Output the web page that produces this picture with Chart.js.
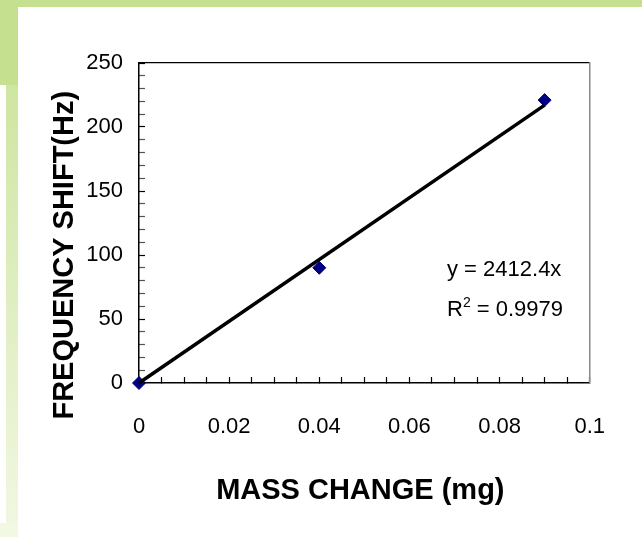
<!DOCTYPE html>
<html>
<head>
<meta charset="utf-8">
<title>Frequency shift vs mass change</title>
<script src="https://cdn.jsdelivr.net/npm/chart.js@4.4.1/dist/chart.umd.min.js"></script>
<style>
  html, body { margin: 0; padding: 0; background: #fff; }
  #page { position: relative; width: 642px; height: 537px; overflow: hidden; background: #fff; }
  .band { position: absolute; }
  #topBand { left: 0; top: 0; width: 642px; height: 7px; background: #c5e08f; }
  #leftBlock { left: 0; top: 0; width: 18px; height: 85px; background: #c5e08f; }
  #leftStrip { left: 6px; top: 85px; width: 12px; height: 452px; background: linear-gradient(#cfe5a2, #f1f8e3); }
  #bottomBlock { left: 0; top: 523px; width: 18px; height: 14px; background: #f1f8e3; }
  #wrap { position: absolute; left: 0; top: 0; width: 642px; height: 537px; }
</style>
</head>
<body>
<div id="page">
  <div class="band" id="topBand"></div>
  <div class="band" id="leftBlock"></div>
  <div class="band" id="leftStrip"></div>
  <div class="band" id="bottomBlock"></div>
  <div id="wrap"><canvas id="freqChart"></canvas></div>
</div>
<script>
// Measured points
const massChange = [0, 0.04, 0.09];
const freqShift = [0, 90, 221];

// Linear fit through origin (as printed on the chart)
const trendSlope = 2412.4;
const rSquared = 0.9979;

// Axis ticks
const xTickLabels = [0, 0.02, 0.04, 0.06, 0.08, 0.1];
const yTickLabels = [0, 50, 100, 150, 200, 250];
const xMinorStep = 0.005;
const yMinorStep = 10;

const tickFont = { family: '"Liberation Sans", Arial, sans-serif', size: 22 };
const titleFont = { family: '"Liberation Sans", Arial, sans-serif', size: 29, weight: 'bold' };
const labelFont = '"Liberation Sans", Arial, sans-serif';

function findLabel(list, v) {
    return list.find(t => Math.abs(t - v) < 1e-9);
}

// Trend line y = slope * x over the data range
const points = massChange.map((x, i) => ({ x: x, y: freqShift[i] }));
const trendX = [massChange[0], massChange[massChange.length - 1]];
const trend = trendX.map(x => ({ x: x, y: trendSlope * x }));

// Equation text next to the trend line
const equationLabel = {
    id: 'equationLabel',
    afterDatasetsDraw(chart) {
        const { ctx, chartArea } = chart;
        const x = chartArea.left + 308;
        const y1 = chartArea.top + 213;
        const y2 = chartArea.top + 253;
        ctx.save();
        ctx.fillStyle = '#000';
        ctx.textBaseline = 'alphabetic';
        ctx.textAlign = 'left';
        ctx.font = '22px ' + labelFont;
        ctx.fillText('y = ' + trendSlope + 'x', x, y1);
        ctx.fillText('R', x, y2);
        const rWidth = ctx.measureText('R').width;
        ctx.font = '14px ' + labelFont;
        ctx.fillText('2', x + rWidth, y2 - 9);
        const supWidth = ctx.measureText('2').width;
        ctx.font = '22px ' + labelFont;
        ctx.fillText(' = ' + rSquared, x + rWidth + supWidth, y2);
        ctx.restore();
    }
};

const ctx = document.getElementById('freqChart').getContext('2d');
new Chart(ctx, {
    type: 'scatter',
    data: {
        datasets: [{
            label: 'Trend',
            type: 'line',
            data: trend,
            borderColor: '#000',
            borderWidth: 3.5,
            pointRadius: 0,
            fill: false,
            order: 0,
            clip: false
        }, {
            label: 'Frequency shift',
            data: points,
            pointStyle: 'rectRot',
            pointRadius: 6.5,
            pointBorderWidth: 1,
            backgroundColor: '#000080',
            borderColor: '#000080',
            order: 1,
            clip: false
        }]
    },
    options: {
        responsive: true,
        maintainAspectRatio: false,
        animation: false,
        layout: { padding: 0 },
        plugins: {
            legend: { display: false },
            tooltip: { enabled: false }
        },
        scales: {
            x: {
                type: 'linear',
                position: 'bottom',
                min: 0,
                max: 0.1,
                afterFit: s => { s.height = 154; },
                ticks: {
                    stepSize: xMinorStep,
                    autoSkip: false,
                    maxRotation: 0,
                    padding: 37,
                    color: '#000',
                    font: tickFont,
                    callback: v => {
                        const t = findLabel(xTickLabels, v);
                        return t === undefined ? '' : String(t);
                    }
                },
                grid: {
                    drawOnChartArea: false,
                    drawTicks: true,
                    tickLength: -6,
                    tickWidth: 1.2,
                    tickColor: '#000'
                },
                border: { color: '#000', width: 1.5 },
                title: {
                    display: true,
                    text: 'MASS CHANGE (mg)\u00a0',
                    color: '#000',
                    font: titleFont,
                    padding: { top: 0, bottom: 29 }
                }
            },
            y: {
                type: 'linear',
                position: 'left',
                min: 0,
                max: 250,
                afterFit: s => { s.width = 139; },
                ticks: {
                    stepSize: yMinorStep,
                    autoSkip: false,
                    padding: 22,
                    color: '#000',
                    font: tickFont,
                    callback: v => findLabel(yTickLabels, v) === undefined ? '' : String(v)
                },
                grid: {
                    drawOnChartArea: false,
                    drawTicks: true,
                    tickLength: -6,
                    tickWidth: 1.2,
                    tickColor: c => findLabel(yTickLabels, c.tick.value) === undefined ? '#555' : '#000'
                },
                border: { color: '#000', width: 1.5 },
                title: {
                    display: true,
                    text: 'FREQUENCY SHIFT(Hz)' + '\u00a0'.repeat(8),
                    color: '#000',
                    font: titleFont,
                    padding: { top: 48, bottom: 0 }
                }
            },
            x2: {
                type: 'linear',
                position: 'top',
                min: 0,
                max: 0.1,
                afterFit: s => { s.height = 63; },
                ticks: { display: false },
                grid: { drawOnChartArea: false, drawTicks: false },
                border: { color: '#000', width: 1.2 }
            },
            y2: {
                type: 'linear',
                position: 'right',
                min: 0,
                max: 250,
                afterFit: s => { s.width = 40; },
                ticks: { display: false },
                grid: { drawOnChartArea: false, drawTicks: false },
                border: { color: '#888', width: 1.5 }
            }
        }
    },
    plugins: [equationLabel]
});
</script>
</body>
</html>
